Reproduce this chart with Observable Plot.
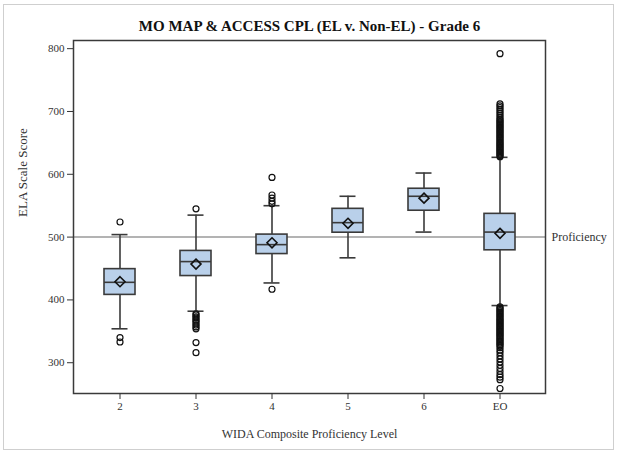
<!DOCTYPE html>
<html>
<head>
<meta charset="utf-8">
<script src="https://cdn.jsdelivr.net/npm/d3@7"></script>
<script src="https://cdn.jsdelivr.net/npm/@observablehq/plot@0.6"></script>
<style>
  body { margin: 0; background: #fff; }
  #wrap { position: relative; width: 617px; height: 454px; }
  #border { position: absolute; left: 3px; top: 4px; width: 609px; height: 444px; border: 1px solid #cfcfcf; pointer-events: none; }
</style>
</head>
<body>
<div id="wrap"><div id="chart"></div><div id="border"></div></div>
<script>
const title = "MO MAP & ACCESS CPL (EL v. Non-EL) - Grade 6";
const xLabel = "WIDA Composite Proficiency Level";
const yLabel = "ELA Scale Score";
const refLabel = "Proficiency";
const refValue = 500;
const yTicks = [300, 400, 500, 600, 700, 800];

const levels   = ["2", "3", "4", "5", "6", "EO"];
const lowCap   = [354, 382, 427, 467, 508, 391];
const q1       = [408, 438, 473, 507, 542, 479];
const median   = [428, 461, 488, 523, 565, 508];
const q3       = [449, 478, 504, 545, 577, 537];
const highCap  = [504, 535, 550, 565, 602, 627];
const mean     = [429, 457, 491, 522, 562, 506];

const out2  = [524, 340, 333];
const out3  = [545, 378, 376, 373, 371, 368, 366, 363, 360, 357, 354, 332, 316];
const out4  = [595, 567, 562, 557, 553, 417];
const out5  = [];
const out6  = [];
const outEO = [792,
  712, 709, 706, 703, 700, 697, 694, 691, 688, 686, 684, 682, 680, 678, 676, 674, 672, 670,
  668, 666, 664, 662, 660, 658, 656, 654, 652, 650, 648, 646, 644, 642, 640, 638, 636, 634, 632, 630, 628,
  389, 387, 385, 383, 381, 379, 377, 375, 373, 371, 369, 367, 365, 363, 361, 359, 357, 355, 353, 351,
  349, 347, 345, 343, 341, 339, 337, 335, 333, 331, 329, 327, 324, 320, 316, 311, 306, 301,
  296, 291, 286, 281, 277, 273, 259];

const boxes = levels.map((l, i) => ({level: l, lo: lowCap[i], q1: q1[i], med: median[i], q3: q3[i], hi: highCap[i], mean: mean[i]}));
const outLists = [out2, out3, out4, out5, out6, outEO];
const outliers = levels.flatMap((l, i) => outLists[i].map(v => ({level: l, value: v})));

const serif = "'Liberation Serif', 'DejaVu Serif', serif";
const dark = "#3a3a3a";

const chart = Plot.plot({
  width: 617,
  height: 454,
  marginLeft: 73,
  marginRight: 72,
  marginTop: 40,
  marginBottom: 61,
  style: {fontFamily: serif, fontSize: "11px", color: "#333", background: "#fff"},
  x: {type: "band", domain: levels, paddingInner: 0.595, paddingOuter: 0.38},
  y: {domain: [251, 813]},
  marks: [
    Plot.ruleY([refValue], {stroke: "#9a9a9a", strokeWidth: 1.5}),
    Plot.ruleX(boxes, {x: "level", y1: "lo", y2: "q1", stroke: dark, strokeWidth: 1.6}),
    Plot.ruleX(boxes, {x: "level", y1: "q3", y2: "hi", stroke: dark, strokeWidth: 1.6}),
    Plot.tickY(boxes, {x: "level", y: "lo", stroke: dark, strokeWidth: 1.6, insetLeft: 7.5, insetRight: 7.5}),
    Plot.tickY(boxes, {x: "level", y: "hi", stroke: dark, strokeWidth: 1.6, insetLeft: 7.5, insetRight: 7.5}),
    Plot.barY(boxes, {x: "level", y1: "q1", y2: "q3", fill: "#b9d0ea", stroke: dark, strokeWidth: 1.6}),
    Plot.tickY(boxes, {x: "level", y: "med", stroke: dark, strokeWidth: 1.6}),
    Plot.dot(boxes, {x: "level", y: "mean", symbol: "diamond2", r: 4.5, fill: "none", stroke: "#111", strokeWidth: 1.6}),
    Plot.dot(outliers, {x: "level", y: "value", r: 3, fill: "none", stroke: "#111", strokeWidth: 1.2}),
    Plot.frame({stroke: dark, strokeWidth: 1.5}),
    Plot.axisY({ticks: yTicks, tickSize: 6, tickPadding: 3, label: null, fontSize: 11}),
    Plot.axisX({tickSize: 6, tickPadding: 3, label: null, fontSize: 11}),
    Plot.text([title], {frameAnchor: "top", dy: -20, text: d => d, fontSize: 15, fontWeight: "bold", fill: "#111"}),
    Plot.text([yLabel], {frameAnchor: "left", dx: -51, rotate: -90, text: d => d, fontSize: 13, fill: "#333"}),
    Plot.text([xLabel], {frameAnchor: "bottom", dy: 44, text: d => d, fontSize: 12, fill: "#333"}),
    Plot.text([refLabel], {y: () => refValue, frameAnchor: "right", dx: 6, textAnchor: "start", text: d => d, fontSize: 12, fill: "#333"})
  ]
});
document.getElementById("chart").appendChild(chart);
</script>
</body>
</html>
